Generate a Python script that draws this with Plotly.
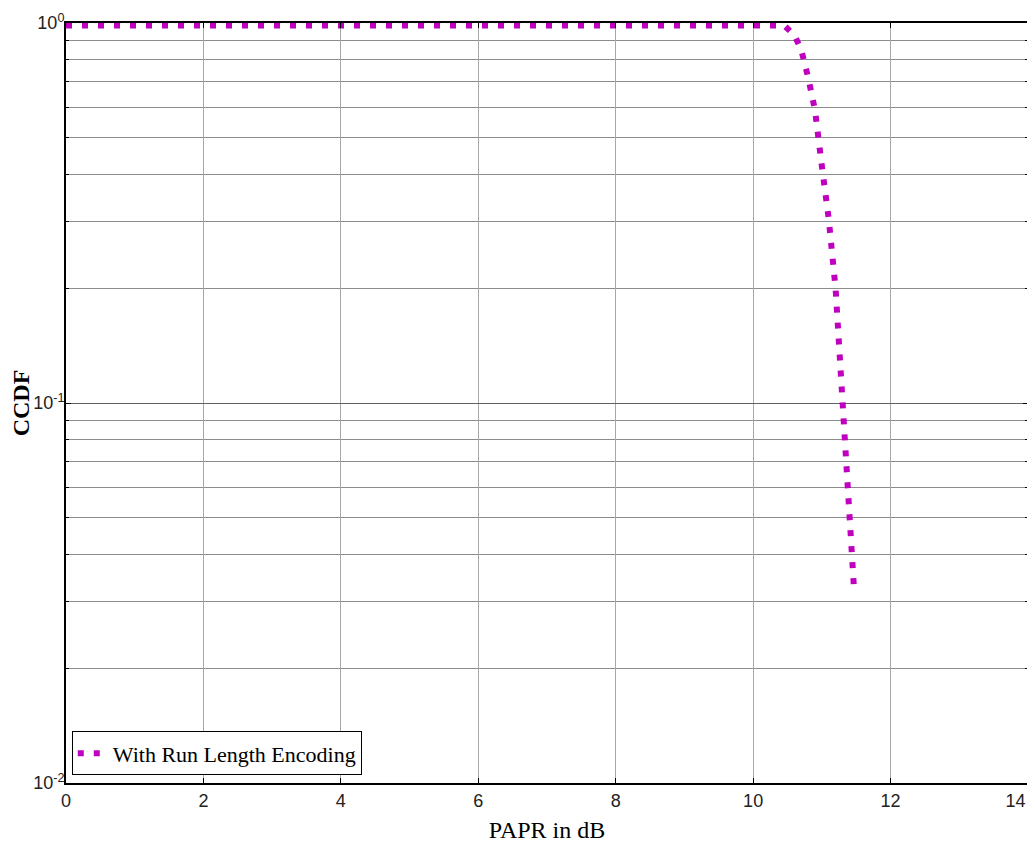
import plotly.graph_objects as go

# Data
papr_db = [0.0, 10.45, 10.6, 10.7, 10.8, 10.9, 11.0, 11.1, 11.2, 11.3, 11.4, 11.47]
ccdf = [0.985, 0.985, 0.93, 0.85, 0.72, 0.59, 0.42, 0.305, 0.20, 0.105, 0.055, 0.032]
series_name = "With Run Length Encoding"

x_ticks = [0, 2, 4, 6, 8, 10, 12, 14]
x_ticktext = ["0", "2", "4", "6", "8", "10", "12", "14&nbsp;&nbsp;&nbsp;&nbsp;&nbsp;"]
y_ticks = [1, 0.1, 0.01]
y_ticktext = ["10<sup>0</sup>", "10<sup>-1</sup>", "10<sup>-2</sup>"]
y_minor = [m * d for d in (0.01, 0.1) for m in range(2, 10)]

tick_font = dict(family="Liberation Sans Narrow, Liberation Sans", size=18, color="#222")

fig = go.Figure()
fig.add_trace(go.Scatter(
    x=papr_db, y=ccdf, mode="lines", name=series_name,
    line=dict(color="#BF00BF", width=6, dash="6px,10px"),
))

# page body has an 8px margin, so the figure is sized/offset to compensate
fig.update_layout(
    width=1027, height=840,
    margin=dict(l=58, r=7, t=15, b=65),
    paper_bgcolor="white", plot_bgcolor="white",
    showlegend=True,
    legend=dict(
        x=0.006, y=0.01, xanchor="left", yanchor="bottom",
        bordercolor="black", borderwidth=1, bgcolor="white",
        font=dict(family="Liberation Serif", size=22, color="black"),
        itemwidth=30,
    ),
)

fig.update_xaxes(
    range=[0, 14], tickvals=x_ticks, ticktext=x_ticktext,
    automargin=False, ticklabeloverflow="allow",
    showgrid=True, gridcolor="#a8a8a8", gridwidth=1,
    showline=True, linecolor="black", linewidth=2, mirror="ticks",
    ticks="inside", ticklen=5, tickcolor="black",
    tickfont=tick_font,
    zeroline=False,
    title=dict(text="PAPR in dB", font=dict(family="Liberation Serif", size=24, color="black"), standoff=12),
)
fig.update_yaxes(
    type="log", range=[-2, 0], tickvals=y_ticks, ticktext=y_ticktext, automargin=False,
    ticklabelstandoff=-4,
    showgrid=True, gridcolor="#606060", gridwidth=1,
    minor=dict(tickvals=y_minor, showgrid=True, gridcolor="#8c8c8c", gridwidth=1,
               ticks="inside", ticklen=3, tickcolor="black"),
    showline=True, linecolor="black", linewidth=2, mirror="ticks",
    ticks="inside", ticklen=5, tickcolor="black",
    tickfont=tick_font,
    zeroline=False,
    title=dict(text="<b>CCDF</b>", font=dict(family="Liberation Serif", size=24, color="black"), standoff=22),
)

fig.write_html("out.html")
